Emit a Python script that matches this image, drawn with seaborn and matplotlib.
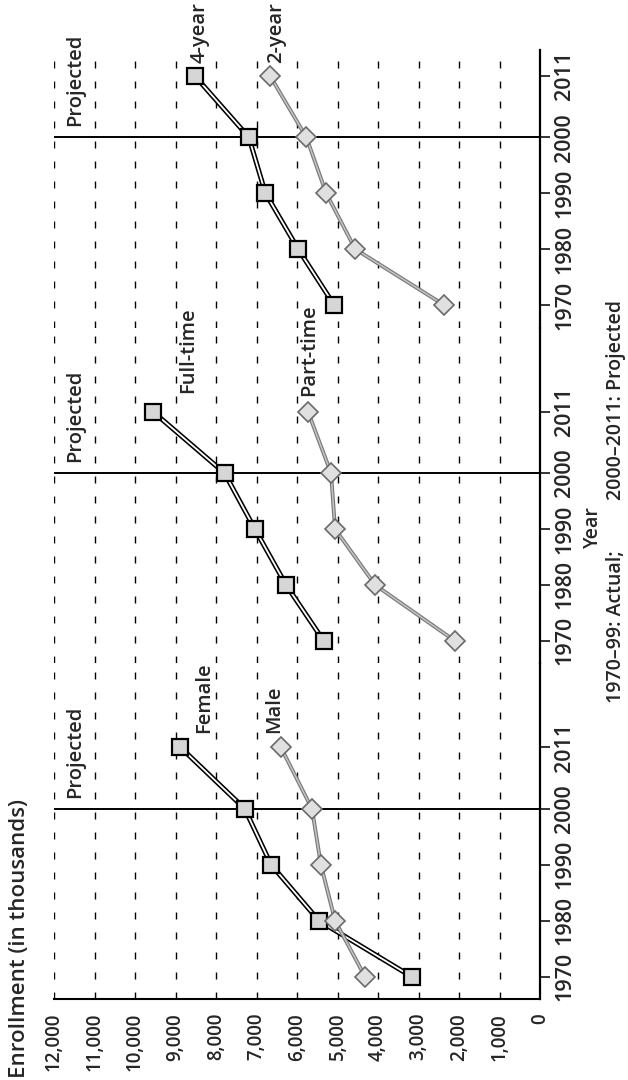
import matplotlib
matplotlib.use("Agg")
import matplotlib.pyplot as plt
import seaborn as sns
import pandas as pd
from matplotlib.ticker import FuncFormatter

# ---------------------------------------------------------------
# Data: undergraduate enrollment (in thousands)
# ---------------------------------------------------------------
years = [1970, 1980, 1990, 2000, 2011]
year_ticks = [1970, 1980, 1990, 2000, 2011]
enroll_ticks = [0, 1000, 2000, 3000, 4000, 5000, 6000,
                7000, 8000, 9000, 10000, 11000, 12000]

female = [3170, 5460, 6640, 7290, 8880]
male = [4320, 5060, 5410, 5630, 6400]
full_time = [5340, 6270, 7040, 7790, 9560]
part_time = [2100, 4070, 5060, 5160, 5730]
four_year = [5080, 5970, 6780, 7190, 8530]
two_year = [2360, 4560, 5280, 5770, 6670]

square_names = ["Female", "Full-time", "4-year"]
diamond_names = ["Male", "Part-time", "2-year"]

sns.set_style("white")
plt.rcParams["font.family"] = ["Open Sans", "DejaVu Sans"]
plt.rcParams["font.weight"] = "semibold"

# the chart is printed turned on its side: enrollment runs right-to-left
# along the bottom, years run upward in three stacked panels
fig = plt.figure(figsize=(6.28, 10.8), dpi=100)
W, H = 628, 1080
left, width = 54 / W, 486 / W
panel_rects = [(81, 335.7, 2026), (416.7, 335.7, 2026), (752.4, 277.6, 2015.57)]
panel_data = [(female, male), (full_time, part_time), (four_year, two_year)]

# label spots (enrollment, year) for each panel
sq_label_pos = [(8300, 2013.6), (8690, 2014.3), (8400, 2013.3)]
dm_label_pos = [(6570, 2013.6), (5700, 2013.8), (6520, 2013.3)]

fmt = FuncFormatter(lambda v, p: f"{int(v):,}")

for i, ((b, h, ytop), (sq_vals, dm_vals)) in enumerate(zip(panel_rects, panel_data)):
    ax = fig.add_axes([left, b / H, width, h / H])
    ax.patch.set_visible(False)
    ax.set_xlim(12000, 0)
    ax.set_ylim(1966, ytop)
    ax.set_xticks(enroll_ticks)
    ax.xaxis.set_major_formatter(fmt)
    ax.grid(axis="x", color="black", linestyle=(0, (5, 9.4)), linewidth=1.0)
    ax.grid(axis="y", visible=False)
    ax.set_axisbelow(True)

    ax.set_yticks(year_ticks)
    ax.yaxis.tick_right()
    ax.tick_params(axis="y", direction="out", length=7, width=1.3,
                   labelsize=15.5, labelrotation=90, pad=3, right=True, left=False)
    for lab in ax.get_yticklabels():
        lab.set_va("center")

    ax.tick_params(axis="x", length=0, labelsize=13.5, labelrotation=90, pad=10,
                   labelbottom=(i == 0))

    for s in ["left", "top"]:
        ax.spines[s].set_visible(False)
    ax.spines["right"].set_linewidth(1.6)
    ax.spines["right"].set_color("black")
    if i == 0:
        ax.spines["bottom"].set_linewidth(1.5)
        ax.spines["bottom"].set_color("black")
    else:
        ax.spines["bottom"].set_visible(False)

    ax.axhline(2000, color="black", linewidth=1.4, zorder=3)

    df_sq = pd.DataFrame({"enroll": sq_vals, "year": years})
    df_dm = pd.DataFrame({"enroll": dm_vals, "year": years})

    # double line for squares: black outline, white inside
    sns.lineplot(data=df_sq, x="enroll", y="year", orient="y", color="black",
                 linewidth=3.6, ax=ax, zorder=4)
    sns.lineplot(data=df_sq, x="enroll", y="year", orient="y", color="white",
                 linewidth=1.3, marker="s", markersize=11.5,
                 markerfacecolor="#d6d6d6", markeredgecolor="black",
                 markeredgewidth=1.6, ax=ax, zorder=5)

    # grey stippled line for diamonds
    sns.lineplot(data=df_dm, x="enroll", y="year", orient="y", color="#7a7a7a",
                 linewidth=2.8, ax=ax, zorder=6)
    sns.lineplot(data=df_dm, x="enroll", y="year", orient="y", color="#c4c4c4",
                 linewidth=1.1, marker="D", markersize=10,
                 markerfacecolor="#e0e0e0", markeredgecolor="#6a6a6a",
                 markeredgewidth=1.2, ax=ax, zorder=7)

    ax.set_xlabel("")
    ax.set_ylabel("")

    ax.text(11480, 2002.0, "Projected", rotation=90, ha="center", va="bottom", fontsize=14.5)
    ax.text(*sq_label_pos[i], square_names[i], rotation=90, ha="center", va="bottom", fontsize=14.5)
    ax.text(*dm_label_pos[i], diamond_names[i], rotation=90, ha="center", va="bottom", fontsize=14.5)

fig.text(20 / W, 2 / H, "Enrollment (in thousands)", rotation=90,
         ha="center", va="bottom", fontsize=16)
fig.text(593 / W, 1 - 527 / H, "Year", rotation=90, ha="center", va="center", fontsize=14)
fig.text(616 / W, 1 - 550 / H, "1970\u201399: Actual;", rotation=90,
         ha="center", va="top", fontsize=14)
fig.text(616 / W, 1 - 500 / H, "2000\u20132011: Projected", rotation=90,
         ha="center", va="bottom", fontsize=14)

fig.savefig("out.png", dpi=100)
